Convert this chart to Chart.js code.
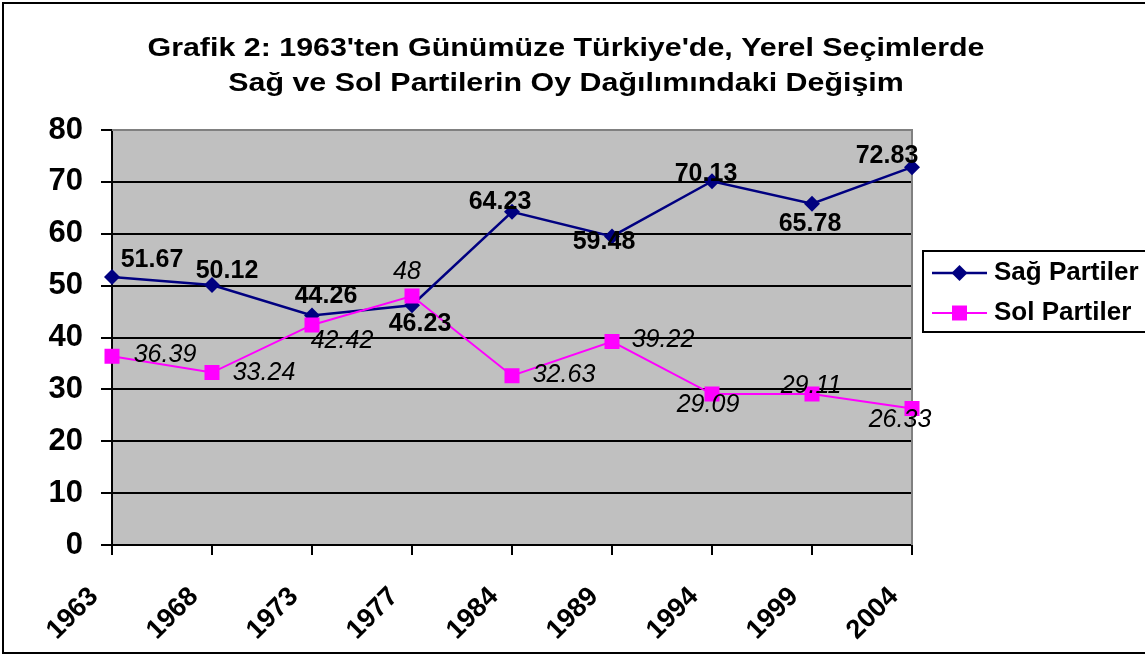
<!DOCTYPE html>
<html lang="tr">
<head>
<meta charset="utf-8">
<title>Grafik 2</title>
<script src="https://cdn.jsdelivr.net/npm/chart.js@4.4.1/dist/chart.umd.min.js"></script>
<style>
  html, body { margin: 0; padding: 0; background: #fff; }
  #wrap { position: relative; width: 1145px; height: 655px; }
</style>
</head>
<body>
<div id="wrap"><canvas id="chart"></canvas></div>
<script>
const FONT = "'Liberation Sans', Arial, Helvetica, sans-serif";

const titleLines = [
    "Grafik 2: 1963'ten Günümüze Türkiye'de, Yerel Seçimlerde",
    "Sağ ve Sol Partilerin Oy Dağılımındaki Değişim"
];
const years = ['1963', '1968', '1973', '1977', '1984', '1989', '1994', '1999', '2004'];
const sagPartiler = [51.67, 50.12, 44.26, 46.23, 64.23, 59.48, 70.13, 65.78, 72.83];
const solPartiler = [36.39, 33.24, 42.42, 48, 32.63, 39.22, 29.09, 29.11, 26.33];
const yMin = 0, yMax = 80, yStep = 10;

// where each value label sits relative to its point [dx, dy]
const sagLabelShift = [[40, -17], [15, -14], [14, -19], [8, 19], [-12, -10], [-8, 6], [-6, -7], [-2, 20], [-25, -11]];
const solLabelShift = [[53, -1], [52, 0], [30, 16], [-5, -24], [52, -1], [51, -1], [-4, 11], [-1, -8], [-12, 12]];

const NAVY = '#000080';
const MAGENTA = '#FF00FF';

// white page, outer frame and grey plot area
const framePlugin = {
    id: 'frame',
    beforeDraw(chart) {
        const { ctx, chartArea: a, width, height } = chart;
        ctx.save();
        ctx.fillStyle = '#fff';
        ctx.fillRect(0, 0, width, height);
        ctx.fillStyle = '#C0C0C0';
        ctx.fillRect(a.left, a.top, a.right - a.left, a.bottom - a.top);
        ctx.strokeStyle = '#000';
        ctx.lineWidth = 2;
        ctx.beginPath();
        ctx.moveTo(width + 5, 3);
        ctx.lineTo(3, 3);
        ctx.lineTo(3, 653);
        ctx.lineTo(width + 5, 653);
        ctx.stroke();
        ctx.restore();
    },
    beforeDatasetsDraw(chart) {
        const { ctx, chartArea: a } = chart;
        ctx.save();
        ctx.strokeStyle = '#808080';
        ctx.lineWidth = 2;
        ctx.beginPath();
        ctx.moveTo(a.left, a.top);
        ctx.lineTo(a.right, a.top);
        ctx.lineTo(a.right, a.bottom);
        ctx.stroke();
        ctx.restore();
    }
};

// two-line heading, widened a little to fill its line
const headingPlugin = {
    id: 'heading',
    afterDraw(chart) {
        const { ctx } = chart;
        ctx.save();
        ctx.fillStyle = '#000';
        ctx.font = 'bold 26px ' + FONT;
        ctx.textAlign = 'center';
        ctx.textBaseline = 'middle';
        const sx = 837 / ctx.measureText(titleLines[0]).width;
        [48.5, 84].forEach((y, i) => {
            ctx.save();
            ctx.translate(566, y);
            ctx.scale(sx, 1);
            ctx.fillText(titleLines[i], 0, 0);
            ctx.restore();
        });
        ctx.restore();
    }
};

// value labels next to each marker
const valueLabels = {
    id: 'valueLabels',
    afterDatasetsDraw(chart) {
        const { ctx } = chart;
        ctx.save();
        ctx.fillStyle = '#000';
        ctx.textAlign = 'center';
        ctx.textBaseline = 'middle';
        chart.data.datasets.forEach((ds, i) => {
            const meta = chart.getDatasetMeta(i);
            ctx.font = ds.labelFont;
            meta.data.forEach((pt, j) => {
                const [dx, dy] = ds.labelShift[j];
                ctx.fillText(String(ds.data[j]), pt.x + dx, pt.y + dy);
            });
        });
        ctx.restore();
    }
};

// boxed legend to the right of the plot
const boxLegend = {
    id: 'boxLegend',
    afterDraw(chart) {
        const { ctx } = chart;
        ctx.save();
        ctx.strokeStyle = '#000';
        ctx.lineWidth = 2;
        ctx.strokeRect(923, 251, 240, 81);
        const rows = [273, 313];
        chart.data.datasets.forEach((ds, i) => {
            const y = rows[i];
            ctx.strokeStyle = ds.borderColor;
            ctx.lineWidth = ds.borderWidth;
            ctx.beginPath();
            ctx.moveTo(932, y);
            ctx.lineTo(987, y);
            ctx.stroke();
            ctx.fillStyle = ds.pointBackgroundColor;
            Chart.helpers.drawPoint(ctx, {
                pointStyle: ds.pointStyle,
                radius: ds.pointRadius,
                rotation: 0,
                borderWidth: 0
            }, 959.5, y);
            ctx.fillStyle = '#000';
            ctx.font = 'bold 26px ' + FONT;
            ctx.textAlign = 'left';
            ctx.textBaseline = 'middle';
            ctx.fillText(ds.label, 994, y);
        });
        ctx.restore();
    }
};

new Chart(document.getElementById('chart'), {
    type: 'line',
    data: {
        labels: years,
        datasets: [
            {
                label: 'Sağ Partiler',
                data: sagPartiler,
                borderColor: NAVY,
                borderWidth: 2.5,
                pointStyle: 'rectRot',
                pointRadius: 8,
                pointBackgroundColor: NAVY,
                pointBorderWidth: 0,
                tension: 0,
                order: 1,
                labelFont: 'bold 25px ' + FONT,
                labelShift: sagLabelShift
            },
            {
                label: 'Sol Partiler',
                data: solPartiler,
                borderColor: MAGENTA,
                borderWidth: 2,
                pointStyle: 'rect',
                pointRadius: 10.6,
                pointBackgroundColor: MAGENTA,
                pointBorderWidth: 0,
                tension: 0,
                order: 0,
                labelFont: 'italic 25px ' + FONT,
                labelShift: solLabelShift
            }
        ]
    },
    options: {
        responsive: true,
        maintainAspectRatio: false,
        animation: false,
        layout: { padding: { left: 0, right: 233, top: 130, bottom: 0 } },
        plugins: {
            legend: { display: false },
            tooltip: { enabled: false },
            title: { display: false }
        },
        scales: {
            x: {
                offset: false,
                afterFit(scale) { scale.height = 110; },
                grid: { display: true, drawOnChartArea: false, drawTicks: true, tickLength: 10, color: '#000', lineWidth: 2, offset: false },
                border: { display: true, color: '#000', width: 2 },
                ticks: {
                    color: '#000',
                    autoSkip: false,
                    maxRotation: 45,
                    minRotation: 45,
                    padding: 26,
                    labelOffset: -18,
                    font: { family: FONT, size: 27, weight: 'bold' }
                }
            },
            y: {
                min: yMin,
                max: yMax,
                afterFit(scale) { scale.width = 112; },
                grid: {
                    color: ctx => ctx.tick && ctx.tick.value === yMax ? '#808080' : '#000',
                    tickColor: '#000',
                    lineWidth: 2,
                    tickLength: 11
                },
                border: { display: true, color: '#000', width: 2 },
                ticks: {
                    stepSize: yStep,
                    color: '#000',
                    padding: 18,
                    font: { family: FONT, size: 31, weight: 'bold' }
                }
            }
        }
    },
    plugins: [framePlugin, headingPlugin, valueLabels, boxLegend]
});
</script>
</body>
</html>
